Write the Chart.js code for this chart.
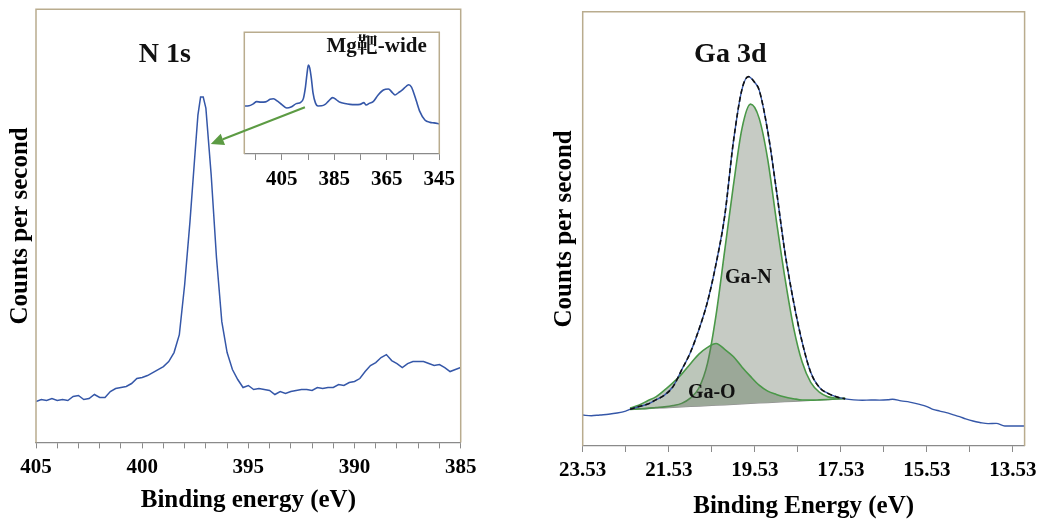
<!DOCTYPE html>
<html>
<head>
<meta charset="utf-8">
<script src="https://cdn.jsdelivr.net/npm/chart.js@4.4.0/dist/chart.umd.min.js"></script>
<style>
html, body { margin: 0; padding: 0; background: #fff; overflow: hidden; }
#wrap { position: relative; width: 1045px; height: 522px; overflow: hidden; }
#wrap div { position: absolute; }
</style>
</head>
<body>
<div id="wrap">
  <div style="left:0;top:0;width:480px;height:522px"><canvas id="n1s"></canvas></div>
  <div style="left:530px;top:0;width:520px;height:522px"><canvas id="ga3d"></canvas></div>
  <div style="left:195px;top:25px;width:270px;height:180px"><canvas id="wide"></canvas></div>
</div>
<script>
// N 1s high resolution scan
const n1sEnergy = [405, 404.75, 404.5, 404.25, 404, 403.75, 403.5, 403.25, 403, 402.75, 402.5, 402.25, 402, 401.75,
  401.5, 401.25, 401, 400.75, 400.5, 400.25, 400, 399.75, 399.5, 399.25, 399, 398.75, 398.5, 398.25, 398,
  397.75, 397.5, 397.375, 397.25, 397.125, 397, 396.75, 396.5, 396.25, 396, 395.75, 395.5, 395.25, 395,
  394.75, 394.5, 394.25, 394, 393.75, 393.5, 393.25, 393, 392.75, 392.5, 392.25, 392, 391.75, 391.5, 391.25,
  391, 390.75, 390.5, 390.25, 390, 389.75, 389.5, 389.25, 389, 388.75, 388.5, 388.25, 388, 387.75, 387.5,
  387.25, 387, 386.75, 386.5, 386.25, 386, 385.75, 385.5, 385.25, 385];
const n1sCounts = [410, 430, 420, 440, 420, 430, 420, 460, 470, 430, 440, 480, 450, 450,
  510, 540, 550, 560, 590, 640, 650, 670, 700, 730, 760, 810, 900, 1080, 1580,
  2210, 2930, 3280, 3460, 3460, 3350, 2680, 1850, 1210, 900, 730, 630, 550, 570,
  530, 540, 530, 520, 480, 510, 490, 510, 520, 530, 530, 520, 550, 540, 550,
  550, 580, 570, 600, 610, 640, 710, 770, 800, 850, 880, 820, 790, 750, 790,
  810, 810, 810, 790, 770, 780, 750, 710, 730, 750];
const n1sTicks = [385, 386, 387, 388, 389, 390, 391, 392, 393, 394, 395, 396, 397, 398, 399, 400, 401, 402, 403, 404, 405];

// Mg target wide scan (inset)
const wideEnergy = [419.3, 417.5, 415.9, 414.6, 413, 411.2, 409.5, 408.2, 406.5, 405, 403.1, 401.5, 399.5, 397.8,
  396.8, 396, 395.4, 394.9, 394.4, 393.8, 393.1, 392.2, 391.2, 389.8, 388.5, 387.2, 385.6, 384.2, 382.8, 381,
  379, 377, 375.2, 373.7, 372.9, 371.5, 370.2, 368.3, 366.3, 364.4, 362.9, 361.9, 360.5, 359.3, 357.5, 356.6,
  355.6, 354.9, 353.8, 352.4, 350.5, 348.5, 347, 345];
const wideCounts = [39.4, 39.6, 41.2, 43.0, 42.6, 42.8, 44.9, 45.4, 43.2, 40.6, 37.8, 38.6, 41.4, 42.5,
  45.5, 55, 66, 73.1, 71, 63, 50, 42, 39.5, 39.6, 40.8, 43.5, 46.3, 44.5, 42.5, 41.5,
  40.8, 40.6, 40.8, 42.2, 40.3, 41.8, 43.0, 48.5, 52.6, 53.4, 50.5, 48.5, 50.5, 52.3, 55.8, 56.9,
  55.0, 51.2, 44.0, 34.8, 27.9, 26.0, 25.6, 24.7];
const wideTicks = [345, 355, 365, 375, 385, 395, 405, 415];

// Ga 3d scan
const gaEnergy = [23.53, 23.33, 23.13, 22.93, 22.73, 22.53, 22.43, 22.23, 22.03, 21.83, 21.63, 21.43, 21.23,
  21.03, 20.83, 20.63, 20.43, 20.23, 20.03, 19.83, 19.68, 19.53, 19.43, 19.23, 19.03, 18.83, 18.63, 18.43,
  18.23, 18.03, 17.83, 17.63, 17.43, 17.23, 17.03, 16.83, 16.63, 16.43, 16.33, 16.13, 15.93, 15.7, 15.53,
  15.39, 15.23, 15.08, 14.93, 14.77, 14.63, 14.46, 14.3, 14.11, 13.92, 13.72, 13.53, 13.26];
const gaCounts = [310, 303, 311, 318, 330, 350, 367, 393, 418, 462, 510, 596, 762,
  935, 1165, 1444, 1827, 2302, 3040, 3570, 3700, 3640, 3567, 3153, 2567, 1939, 1447, 1041,
  737, 587, 527, 492, 472, 462, 458, 461, 459, 463, 468, 452, 440, 417, 395,
  367, 350, 334, 315, 294, 272, 250, 236, 224, 227, 200, 200, 200];

// peak fit
const fitEnergy = [22.43, 22.23, 22.03, 21.83, 21.63, 21.43, 21.23, 21.03, 20.83, 20.63, 20.43, 20.23, 20.03,
  19.83, 19.63, 19.43, 19.23, 19.03, 18.83, 18.63, 18.43, 18.23, 18.03, 17.83, 17.63, 17.43];
const fitBackground = [367, 371, 375, 380, 384, 388, 393, 397, 401, 406, 410, 414, 419,
  423, 427, 432, 436, 440, 445, 449, 453, 458, 462, 466, 471, 475];
const fitGaN = [367, 372, 377, 385, 392, 405, 427, 479, 581, 828, 1314, 1957, 2602,
  3177, 3424, 3284, 2871, 2261, 1683, 1189, 841, 637, 539, 492, 480, 477];
const fitGaO = [380, 408, 451, 492, 560, 634, 720, 822, 920, 988, 1027, 968, 896,
  792, 697, 610, 550, 517, 491, 474, 460, 459, 462, 466, 471, 475];
const envEnergy = [22.43, 22.23, 22.03, 21.83, 21.63, 21.43, 21.23, 21.03, 20.83, 20.63, 20.43, 20.23, 20.03,
  19.83, 19.68, 19.53, 19.43, 19.23, 19.03, 18.83, 18.63, 18.43, 18.23, 18.03, 17.83, 17.63, 17.43];
const envCounts = [367, 395, 417, 462, 509, 595, 762, 935, 1165, 1444, 1827, 2302, 3040,
  3570, 3700, 3640, 3567, 3153, 2567, 1939, 1447, 1041, 737, 587, 527, 492, 472];
const gaTicks = [13.53, 14.53, 15.53, 16.53, 17.53, 18.53, 19.53, 20.53, 21.53, 22.53, 23.53];

const serif = '"Liberation Serif", "Times New Roman", "Noto Serif CJK SC", "Noto Sans CJK SC", serif';
const frameColor = '#b9ac8e';
const axisColor = '#8a8a8a';

function pts(xs, ys) {
  return xs.map((x, i) => ({ x: x, y: ys[i] }));
}

// tan box round the plot area (bottom edge is the x axis)
function framePlugin(fillWhite) {
  return {
    id: 'frame',
    beforeDraw(chart) {
      if (!fillWhite) return;
      const a = chart.chartArea, ctx = chart.ctx;
      ctx.save();
      ctx.fillStyle = '#fff';
      ctx.fillRect(a.left, a.top, a.right - a.left, a.bottom - a.top);
      ctx.restore();
    },
    afterDraw(chart) {
      const a = chart.chartArea, ctx = chart.ctx;
      ctx.save();
      ctx.strokeStyle = frameColor;
      ctx.lineWidth = 1.5;
      ctx.beginPath();
      ctx.moveTo(a.left, a.bottom);
      ctx.lineTo(a.left, a.top);
      ctx.lineTo(a.right, a.top);
      ctx.lineTo(a.right, a.bottom);
      ctx.stroke();
      ctx.restore();
    }
  };
}

// text placed at data coordinates
function notesPlugin(items) {
  return {
    id: 'notes',
    afterDatasetsDraw(chart) {
      const ctx = chart.ctx;
      items.forEach(n => {
        ctx.save();
        ctx.font = n.font;
        ctx.fillStyle = '#111';
        ctx.textAlign = 'center';
        ctx.textBaseline = 'middle';
        ctx.fillText(n.text, chart.scales.x.getPixelForValue(n.x), chart.scales.y.getPixelForValue(n.y));
        ctx.restore();
      });
    }
  };
}

function xAxis(min, max, ticks, every, digits, pad, title, titlePad) {
  return {
    type: 'linear', reverse: true, min: min, max: max,
    afterBuildTicks: (axis) => { axis.ticks = ticks.map(v => ({ value: v })); },
    ticks: {
      autoSkip: false, maxRotation: 0, padding: pad, color: '#000',
      font: { family: serif, size: 21, weight: 'bold' },
      callback: (v, i) => (i % every === 0 ? v.toFixed(digits) : '')
    },
    grid: { display: true, drawOnChartArea: false, drawTicks: true, tickLength: 6, color: axisColor, lineWidth: 1 },
    border: { display: true, color: axisColor, width: 1.2 },
    title: title ? {
      display: true, text: title, color: '#000', padding: titlePad,
      font: { family: serif, size: 25, weight: 'bold' }
    } : { display: false }
  };
}

function yAxis(max, titlePad) {
  return {
    type: 'linear', min: 0, max: max,
    ticks: { display: false },
    grid: { display: false, drawTicks: false },
    border: { display: false },
    title: {
      display: true, text: 'Counts per second', color: '#000', padding: titlePad,
      font: { family: serif, size: 25, weight: 'bold' }
    }
  };
}

const common = {
  responsive: true, maintainAspectRatio: false, animation: false,
  plugins: { legend: { display: false }, tooltip: { enabled: false } },
  elements: { point: { radius: 0 } }
};

// N 1s
const n1sChart = new Chart('n1s', {
  type: 'line',
  data: {
    datasets: [{
      data: pts(n1sEnergy, n1sCounts),
      borderColor: '#3557a8', borderWidth: 1.5, fill: false, tension: 0
    }]
  },
  options: Object.assign({}, common, {
    layout: { padding: { top: 9.3, right: 19.3, left: 0, bottom: 0 } },
    scales: {
      x: xAxis(385, 405, n1sTicks, 5, 0, 6.2, 'Binding energy (eV)', { top: 0, bottom: 6 }),
      y: yAxis(4340, { top: 5.5, bottom: 0.5 })
    }
  }),
  plugins: [framePlugin(false), notesPlugin([
    { text: 'N 1s', x: 398.93, y: 3880, font: 'bold 28px ' + serif }
  ])]
});

// Ga 3d
new Chart('ga3d', {
  type: 'line',
  data: {
    datasets: [
      { data: pts(envEnergy, envCounts), borderColor: '#111', borderWidth: 1.6, borderDash: [5, 3],
        fill: false, cubicInterpolationMode: 'monotone' },
      { data: pts(gaEnergy, gaCounts), borderColor: '#3557a8', borderWidth: 1.4, fill: false,
        cubicInterpolationMode: 'monotone' },
      { data: pts(fitEnergy, fitGaO), borderColor: '#4a9848', borderWidth: 1.6, fill: 4,
        backgroundColor: 'rgba(95,120,90,0.42)', cubicInterpolationMode: 'monotone' },
      { data: pts(fitEnergy, fitGaN), borderColor: '#4a9848', borderWidth: 1.6, fill: 4,
        backgroundColor: '#c6cbc4', cubicInterpolationMode: 'monotone' },
      { data: pts(fitEnergy, fitBackground), borderColor: '#8e8e8e', borderWidth: 1.5, fill: false, tension: 0 }
    ]
  },
  options: Object.assign({}, common, {
    layout: { padding: { top: 11.7, right: 25.4, left: 0, bottom: 0 } },
    scales: {
      x: xAxis(13.26, 23.53, gaTicks, 2, 2, 6.4, 'Binding Energy (eV)', { top: 2, bottom: 0 }),
      y: yAxis(4350, { top: 20, bottom: 2.7 })
    }
  }),
  plugins: [framePlugin(false), notesPlugin([
    { text: 'Ga 3d', x: 20.1, y: 3917, font: 'bold 28px ' + serif },
    { text: 'Ga-N', x: 19.68, y: 1684, font: 'bold 20px ' + serif },
    { text: 'Ga-O', x: 20.53, y: 534, font: 'bold 20px ' + serif }
  ])]
});

// arrow from the wide-scan peak to the N 1s peak
const arrowFrom = [396.2, 38.4];   // inset data
const arrowTo = [396.77, 2990];    // N 1s data
const arrowPlugin = {
  id: 'arrow',
  afterDraw(chart) {
    const ctx = chart.ctx;
    const own = chart.canvas.getBoundingClientRect();
    const main = n1sChart.canvas.getBoundingClientRect();
    const x0 = chart.scales.x.getPixelForValue(arrowFrom[0]);
    const y0 = chart.scales.y.getPixelForValue(arrowFrom[1]);
    const x1 = n1sChart.scales.x.getPixelForValue(arrowTo[0]) + main.left - own.left;
    const y1 = n1sChart.scales.y.getPixelForValue(arrowTo[1]) + main.top - own.top;
    const ang = Math.atan2(y1 - y0, x1 - x0);
    const len = 13, half = 6;
    const bx = x1 - len * Math.cos(ang), by = y1 - len * Math.sin(ang);
    ctx.save();
    ctx.strokeStyle = '#5c9b43';
    ctx.fillStyle = '#5c9b43';
    ctx.lineWidth = 2;
    ctx.beginPath();
    ctx.moveTo(x0, y0);
    ctx.lineTo(bx, by);
    ctx.stroke();
    ctx.beginPath();
    ctx.moveTo(x1, y1);
    ctx.lineTo(bx + half * Math.sin(ang), by - half * Math.cos(ang));
    ctx.lineTo(bx - half * Math.sin(ang), by + half * Math.cos(ang));
    ctx.closePath();
    ctx.fill();
    ctx.restore();
  }
};

// inset: Mg target wide scan
new Chart('wide', {
  type: 'line',
  data: {
    datasets: [{
      data: pts(wideEnergy, wideCounts),
      borderColor: '#3557a8', borderWidth: 1.6, fill: false, cubicInterpolationMode: 'monotone'
    }]
  },
  options: Object.assign({}, common, {
    layout: { padding: { top: 7.3, right: 25.7, left: 49.3, bottom: 6.4 } },
    scales: {
      x: xAxis(345, 419.3, wideTicks, 2, 0, 6.7, null, null),
      y: { type: 'linear', min: 0, max: 100, display: false }
    }
  }),
  plugins: [framePlugin(true), notesPlugin([
    { text: 'Mg靶-wide', x: 368.9, y: 87.9, font: 'bold 21px ' + serif }
  ]), arrowPlugin]
});
</script>
</body>
</html>
